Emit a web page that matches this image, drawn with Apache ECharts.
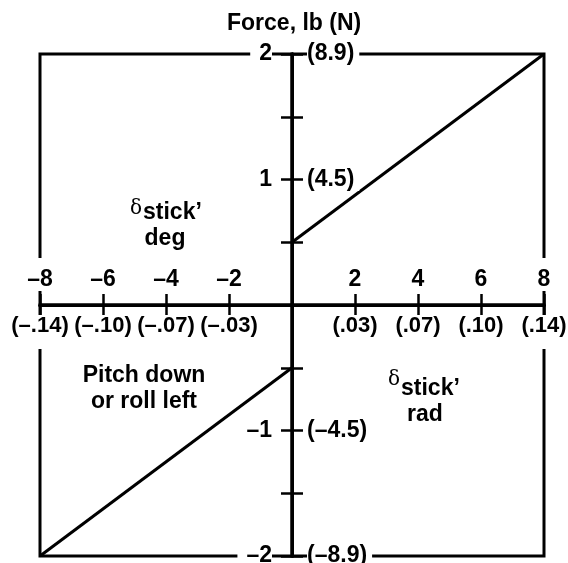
<!DOCTYPE html>
<html>
<head>
<meta charset="utf-8">
<script src="https://cdn.jsdelivr.net/npm/echarts@6/dist/echarts.min.js"></script>
<style>
  html, body { margin: 0; padding: 0; background: #fff; }
  #main { width: 568px; height: 563px; }
</style>
</head>
<body>
<div id="main"></div>
<script>
// stick deflection, deg (labels above the axis) and rad (labels below)
var degTicks = [-8, -6, -4, -2, 2, 4, 6, 8];
var degLabels = ['\u20138', '\u20136', '\u20134', '\u20132', '2', '4', '6', '8'];
var radLabels = ['(\u2013.14)', '(\u2013.10)', '(\u2013.07)', '(\u2013.03)', '(.03)', '(.07)', '(.10)', '(.14)'];

// force, lb (labels left of the axis) and N (labels right of it)
var forceTicks = [-2, -1.5, -1, -0.5, 0.5, 1, 1.5, 2];
var forceLabelValues = [-2, -1, 1, 2];
var forceLbLabels = ['\u20132', '\u20131', '1', '2'];
var forceNLabels = ['(\u20138.9)', '(\u20134.5)', '(4.5)', '(8.9)'];

// gradient lines, [deg, lb]
var pushLine = [[0, 0.5], [8, 2]];
var pullLine = [[-8, -2], [0, -0.5]];

var FONT = 'Liberation Sans';
var FS = 23;
var black = '#000';

function lookup(values, labels) {
    return function (v) {
        for (var i = 0; i < values.length; i++) {
            if (Math.abs(values[i] - v) < 1e-6) return labels[i];
        }
        return '';
    };
}
function pos(arr) { return arr.filter(function (v) { return v > 0; }); }
function neg(arr) { return arr.filter(function (v) { return v < 0; }); }

// one quadrant per grid, so every axis sits on the centre cross
var L = 40, T = 54, W = 252, H = 251;
var quads = [
    { left: L, top: T },         // top left
    { left: L + W, top: T },     // top right
    { left: L, top: T + H },     // bottom left
    { left: L + W, top: T + H }  // bottom right
];

function labelStyle(extra) {
    return Object.assign({
        inside: true,
        hideOverlap: false,
        color: black,
        fontFamily: FONT,
        fontWeight: 'bold',
        fontSize: FS,
        backgroundColor: '#fff'
    }, extra);
}

function xAx(grid, min, max, position, vals, labels, margin, padding, fs) {
    return {
        type: 'value', gridIndex: grid, position: position, min: min, max: max, interval: 2, z: 5,
        axisLine: { onZero: false, lineStyle: { color: black, width: 3 } },
        axisTick: { show: true, inside: true, length: 11, lineStyle: { color: black, width: 2.5 }, customValues: vals },
        axisLabel: labelStyle({
            margin: margin, padding: padding, fontSize: fs,
            showMinLabel: true, showMaxLabel: true,
            customValues: vals, formatter: lookup(degTicks, labels)
        }),
        splitLine: { show: false }
    };
}
function yAx(grid, min, max, position, vals, labels, margin, padding) {
    return {
        type: 'value', gridIndex: grid, position: position, min: min, max: max, interval: 0.5, z: 5,
        axisLine: { onZero: false, lineStyle: { color: black, width: 3 } },
        axisTick: { show: true, inside: true, length: 11, lineStyle: { color: black, width: 2.5 }, customValues: vals.ticks },
        axisLabel: labelStyle({
            margin: margin, padding: padding,
            showMinLabel: true, showMaxLabel: true,
            customValues: vals.labels, formatter: lookup(forceLabelValues, labels)
        }),
        splitLine: { show: false }
    };
}

var upper = { ticks: pos(forceTicks), labels: pos(forceLabelValues) };
var lower = { ticks: neg(forceTicks), labels: neg(forceLabelValues) };

var myChart = echarts.init(document.getElementById('main'));
myChart.setOption({
    animation: false,
    title: {
        text: 'Force, lb (N)',
        left: 222,
        top: 7,
        textStyle: { fontFamily: FONT, fontWeight: 'bold', fontSize: FS, color: black }
    },
    grid: quads.map(function (q) {
        return {
            left: q.left, top: q.top, width: W, height: H,
            outerBoundsMode: 'none',
            show: true, borderColor: black, borderWidth: 3
        };
    }),
    xAxis: [
        xAx(0, -8, 0, 'bottom', neg(degTicks), degLabels, 14, [10, 2, 0, 2], FS),
        xAx(1, 0, 8, 'bottom', pos(degTicks), degLabels, 14, [10, 2, 0, 2], FS),
        xAx(2, -8, 0, 'top', neg(degTicks), radLabels, 10, [0, 0, 12, 0], 22),
        xAx(3, 0, 8, 'top', pos(degTicks), radLabels, 10, [0, 0, 12, 0], 22)
    ],
    yAxis: [
        yAx(0, 0, 2, 'right', upper, forceLbLabels, 20, [0, 0, 0, 9]),
        yAx(1, 0, 2, 'left', upper, forceNLabels, 15, [0, 5, 0, 0]),
        yAx(2, -2, 0, 'right', lower, forceLbLabels, 20, [0, 0, 6, 9]),
        yAx(3, -2, 0, 'left', lower, forceNLabels, 15, [0, 5, 6, 0])
    ],
    series: [{
        type: 'line', xAxisIndex: 1, yAxisIndex: 1, data: pushLine,
        symbol: 'none', silent: true, clip: false, z: 3,
        lineStyle: { color: black, width: 3 }
    }, {
        type: 'line', xAxisIndex: 2, yAxisIndex: 2, data: pullLine,
        symbol: 'none', silent: true, clip: false, z: 3,
        lineStyle: { color: black, width: 3 }
    }],
    graphic: [
        // delta stick, deg
        { type: 'text', x: 130, y: 209, style: { text: '\u03b4', fontFamily: 'DejaVu Serif', fontSize: 20, fill: black, verticalAlign: 'middle' } },
        { type: 'text', x: 143, y: 213, style: { text: 'stick\u2019', fontFamily: FONT, fontWeight: 'bold', fontSize: FS, fill: black, verticalAlign: 'middle' } },
        { type: 'text', x: 165, y: 239, style: { text: 'deg', fontFamily: FONT, fontWeight: 'bold', fontSize: FS, fill: black, align: 'center', verticalAlign: 'middle' } },
        // pitch down
        { type: 'text', x: 144, y: 376, style: { text: 'Pitch down', fontFamily: FONT, fontWeight: 'bold', fontSize: FS, fill: black, align: 'center', verticalAlign: 'middle' } },
        { type: 'text', x: 144, y: 402, style: { text: 'or roll left', fontFamily: FONT, fontWeight: 'bold', fontSize: FS, fill: black, align: 'center', verticalAlign: 'middle' } },
        // delta stick, rad
        { type: 'text', x: 388, y: 380, style: { text: '\u03b4', fontFamily: 'DejaVu Serif', fontSize: 20, fill: black, verticalAlign: 'middle' } },
        { type: 'text', x: 401, y: 389, style: { text: 'stick\u2019', fontFamily: FONT, fontWeight: 'bold', fontSize: FS, fill: black, verticalAlign: 'middle' } },
        { type: 'text', x: 425, y: 415, style: { text: 'rad', fontFamily: FONT, fontWeight: 'bold', fontSize: FS, fill: black, align: 'center', verticalAlign: 'middle' } }
    ]
});
</script>
</body>
</html>
